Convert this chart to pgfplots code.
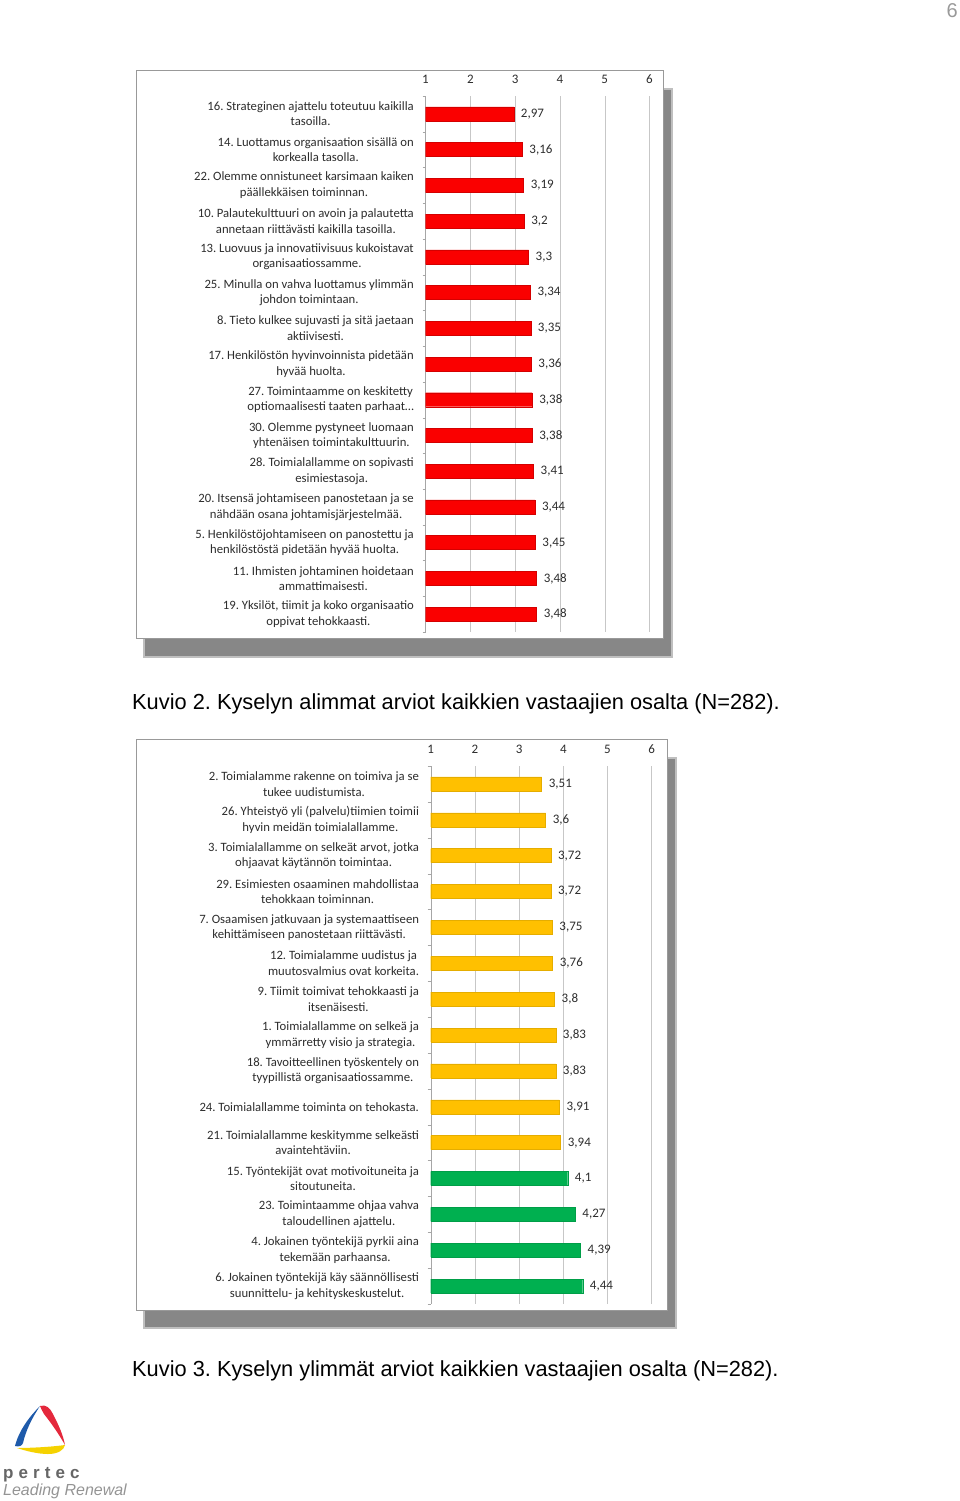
\documentclass[border=0pt]{standalone}
\usepackage{fontspec}
\setmainfont{Liberation Sans}
\newfontfamily\calibri{Carlito}
\usepackage{pgfplots}
\pgfplotsset{compat=1.18}
\frenchspacing
\definecolor{barred}{RGB}{250,0,0}
\definecolor{baryellow}{RGB}{255,192,0}
\definecolor{bargreen}{RGB}{0,176,80}
\definecolor{txt}{RGB}{45,45,45}
\definecolor{logoblue}{RGB}{30,90,170}
\definecolor{logored}{RGB}{228,40,60}
\definecolor{logoyellow}{RGB}{245,210,0}
\newcommand{\lblfont}{\calibri\fontsize{12.7}{15.5}\selectfont}
\newcommand{\numfont}{\calibri\fontsize{13}{14}\selectfont}
\pgfplotsset{
  chartstyle/.style={
    anchor=north west, scale only axis,
    /pgf/number format/assume math mode=true,
    xmin=1, xmax=6, ymin=0.5, ymax=15.5, y dir=reverse,
    axis x line*=top, axis y line*=left,
    x axis line style={draw=none}, y axis line style={draw=black!35},
    xtick={1,2,3,4,5,6},
    xticklabel style={font=\numfont, text=txt, anchor=center, yshift=17pt},
    xmajorgrids, major grid style={black!22},
    ytick={1,2,3,4,5,6,7,8,9,10,11,12,13,14,15},
    yticklabel style={align=center, font=\lblfont, text=txt, inner sep=0pt, xshift=-11.5pt},
    minor ytick={0.5,1.5,2.5,3.5,4.5,5.5,6.5,7.5,8.5,9.5,10.5,11.5,12.5,13.5,14.5,15.5},
    tick align=outside, major tick length=0pt, minor tick length=3pt,
    tick style={black!35},
    every node near coord/.style={anchor=west, inner sep=0pt, xshift=7pt, font=\numfont, text=txt},
  },
  barstyle/.style={xbar, bar width=14pt, bar shift=0pt, nodes near coords, point meta=explicit symbolic},
}
\begin{document}
\begin{tikzpicture}[x=1pt,y=-1pt]
\useasboundingbox (0,0) rectangle (960,1501);
% page number
\node[anchor=base east, inner sep=0pt, text=black!40, font=\fontsize{20}{22}\selectfont] at (958,18) {6};

% ---- chart 1 frame and shadow
\fill[black!25] (143,88) rectangle (673,658);
\fill[black!47] (145,90) rectangle (671,656);
\draw[black!40, fill=white] (136,70) rectangle (663,638);

\begin{axis}[chartstyle, at={(425.5pt,-96pt)}, width=224pt, height=536pt,
  yticklabels={
    {16. Strateginen ajattelu toteutuu kaikilla\\tasoilla.},
    {14. Luottamus organisaation sisällä on\\korkealla tasolla.},
    {22. Olemme onnistuneet karsimaan kaiken\\päällekkäisen toiminnan.},
    {10. Palautekulttuuri on avoin ja palautetta\\annetaan riittävästi kaikilla tasoilla.},
    {13. Luovuus ja innovatiivisuus kukoistavat\\organisaatiossamme.},
    {25. Minulla on vahva luottamus ylimmän\\johdon toimintaan.},
    {8. Tieto kulkee sujuvasti ja sitä jaetaan\\aktiivisesti.},
    {17. Henkilöstön hyvinvoinnista pidetään\\hyvää huolta.},
    {27. Toimintaamme on keskitetty\\optiomaalisesti taaten parhaat\ldots},
    {30. Olemme pystyneet luomaan\\yhtenäisen toimintakulttuurin.},
    {28. Toimialallamme on sopivasti\\esimiestasoja.},
    {20. Itsensä johtamiseen panostetaan ja se\\nähdään osana johtamisjärjestelmää.},
    {5. Henkilöstöjohtamiseen on panostettu ja\\henkilöstöstä pidetään hyvää huolta.},
    {11. Ihmisten johtaminen hoidetaan\\ammattimaisesti.},
    {19. Yksilöt, tiimit ja koko organisaatio\\oppivat tehokkaasti.}},
]
\addplot[barstyle, fill=barred, draw=barred!85!black] coordinates {
 (2.97,1) [2,97] (3.16,2) [3,16] (3.19,3) [3,19] (3.2,4) [3,2] (3.3,5) [3,3]
 (3.34,6) [3,34] (3.35,7) [3,35] (3.36,8) [3,36] (3.38,9) [3,38] (3.38,10) [3,38]
 (3.41,11) [3,41] (3.44,12) [3,44] (3.45,13) [3,45] (3.48,14) [3,48] (3.48,15) [3,48]};
\end{axis}

\node[anchor=base west, inner sep=0pt, font=\fontsize{21.8}{24}\selectfont] at (132,709) {Kuvio 2. Kyselyn alimmat arviot kaikkien vastaajien osalta (N=282).};

% ---- chart 2 frame and shadow
\fill[black!25] (143,757) rectangle (677,1329);
\fill[black!47] (145,759) rectangle (675,1327);
\draw[black!40, fill=white] (136,739) rectangle (667,1310);

\begin{axis}[chartstyle, at={(430.7pt,-766pt)}, width=221pt, height=538pt,
  yticklabels={
    {2. Toimialamme rakenne on toimiva ja se\\tukee uudistumista.},
    {26. Yhteistyö yli (palvelu)tiimien toimii\\hyvin meidän toimialallamme.},
    {3. Toimialallamme on selkeät arvot, jotka\\ohjaavat käytännön toimintaa.},
    {29. Esimiesten osaaminen mahdollistaa\\tehokkaan toiminnan.},
    {7. Osaamisen jatkuvaan ja systemaattiseen\\kehittämiseen panostetaan riittävästi.},
    {12. Toimialamme uudistus ja\\muutosvalmius ovat korkeita.},
    {9. Tiimit toimivat tehokkaasti ja\\itsenäisesti.},
    {1. Toimialallamme on selkeä ja\\ymmärretty visio ja strategia.},
    {18. Tavoitteellinen työskentely on\\tyypillistä organisaatiossamme.},
    {24. Toimialallamme toiminta on tehokasta.},
    {21. Toimialallamme keskitymme selkeästi\\avaintehtäviin.},
    {15. Työntekijät ovat motivoituneita ja\\sitoutuneita.},
    {23. Toimintaamme ohjaa vahva\\taloudellinen ajattelu.},
    {4. Jokainen työntekijä pyrkii aina\\tekemään parhaansa.},
    {6. Jokainen työntekijä käy säännöllisesti\\suunnittelu- ja kehityskeskustelut.}},
]
\addplot[barstyle, fill=baryellow, draw=baryellow!90!black] coordinates {
 (3.51,1) [3,51] (3.6,2) [3,6] (3.72,3) [3,72] (3.72,4) [3,72] (3.75,5) [3,75]
 (3.76,6) [3,76] (3.8,7) [3,8] (3.83,8) [3,83] (3.83,9) [3,83] (3.91,10) [3,91]
 (3.94,11) [3,94]};
\addplot[barstyle, fill=bargreen, draw=bargreen!90!black] coordinates {
 (4.1,12) [4,1] (4.27,13) [4,27] (4.39,14) [4,39] (4.44,15) [4,44]};
\end{axis}

\node[anchor=base west, inner sep=0pt, font=\fontsize{21.8}{24}\selectfont] at (132,1376) {Kuvio 3. Kyselyn ylimmät arviot kaikkien vastaajien osalta (N=282).};

% ---- logo
\fill[logoblue] (40,1406) .. controls (30,1416) and (19,1430) .. (15,1446)
   .. controls (19,1447) and (22,1446) .. (23,1443)
   .. controls (26,1430) and (32,1418) .. (40,1406) -- cycle;
\fill[logored] (40,1406) .. controls (46,1404) and (50,1408) .. (53,1414)
   .. controls (58,1424) and (63,1434) .. (65,1445)
   .. controls (60,1436) and (52,1424) .. (44,1414)
   .. controls (42,1411) and (41,1408) .. (40,1406) -- cycle;
\fill[logoyellow] (17,1448) .. controls (30,1448) and (50,1447) .. (65,1445)
   .. controls (64,1450) and (58,1454) .. (48,1454)
   .. controls (38,1454) and (26,1451) .. (17,1448) -- cycle;
\node[anchor=base west, inner sep=0pt, text=black!60, font=\fontsize{17}{20}\selectfont\bfseries\addfontfeatures{LetterSpace=30}] at (3,1478) {pertec};
\node[anchor=base west, inner sep=0pt, text=black!42, font=\fontsize{16}{18}\selectfont\itshape] at (3,1495) {Leading Renewal};
\end{tikzpicture}
\end{document}
